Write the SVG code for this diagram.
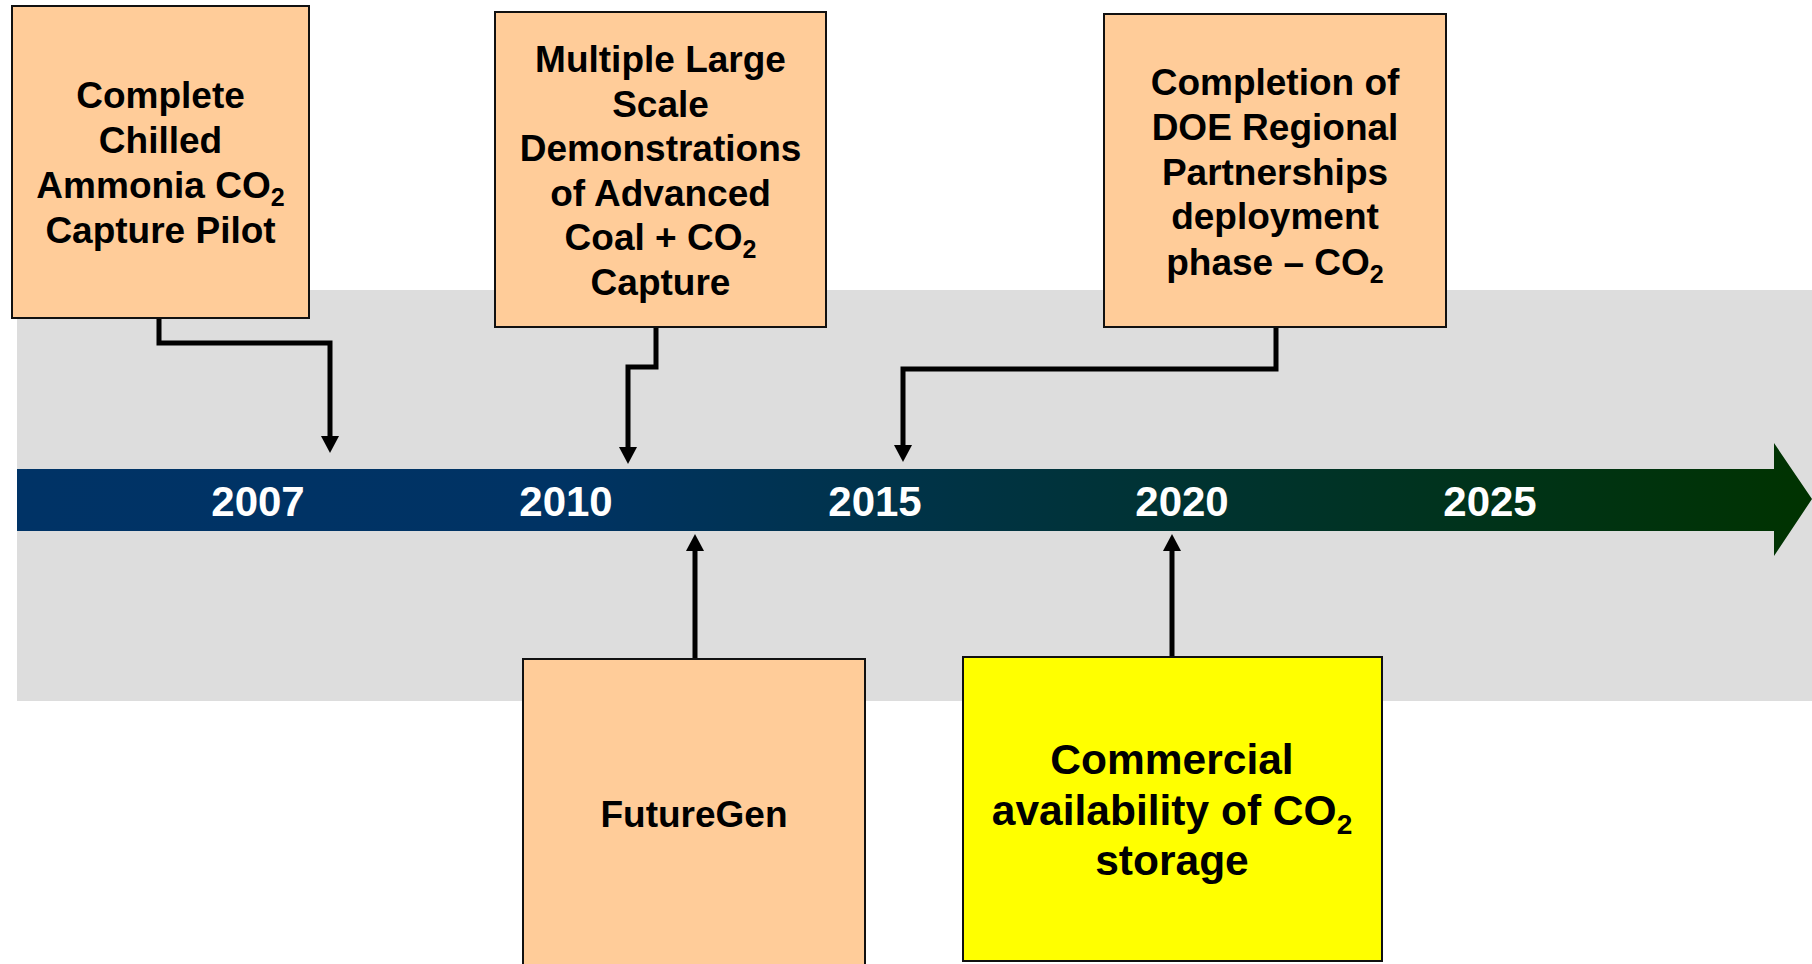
<svg xmlns="http://www.w3.org/2000/svg" width="1812" height="964" viewBox="0 0 1812 964">
<style>
.box{fill:#FFCC99;stroke:#111;stroke-width:2}
.ybox{fill:#FFFF00;stroke:#111;stroke-width:2}
.t{font-family:"Liberation Sans",Arial,sans-serif;font-weight:bold;fill:#000;text-anchor:middle}
.yr{font-family:"Liberation Sans",Arial,sans-serif;font-weight:bold;fill:#fff;text-anchor:middle;font-size:42px}
.c{fill:none;stroke:#000;stroke-width:5;stroke-linejoin:miter}
</style>
<defs>
<linearGradient id="bar" x1="17" y1="0" x2="1812" y2="0" gradientUnits="userSpaceOnUse">
<stop offset="0" stop-color="#003366"/>
<stop offset="0.3" stop-color="#003364"/>
<stop offset="1" stop-color="#003300"/>
</linearGradient>
<marker id="ah" markerUnits="userSpaceOnUse" viewBox="0 0 17 18" markerWidth="17" markerHeight="18" refX="5" refY="9" orient="auto">
<path d="M0,0 L17,9 L0,18 z" fill="#000"/>
</marker>
</defs>
<rect x="0" y="0" width="1812" height="964" fill="#fff"/>
<rect x="17" y="290" width="1795" height="411" fill="#DDDDDD"/>
<g id="timeline">
<path d="M17,469 L1774,469 L1774,443 L1812,499 L1774,556 L1774,531 L17,531 z" fill="url(#bar)"/>
<text class="yr" x="258" y="516">2007</text>
<text class="yr" x="566" y="516">2010</text>
<text class="yr" x="875" y="516">2015</text>
<text class="yr" x="1182" y="516">2020</text>
<text class="yr" x="1490" y="516">2025</text>
</g>
<g id="connectors">
<path class="c" d="M159,318 L159,343 L330,343 L330,441" marker-end="url(#ah)"/>
<path class="c" d="M656,327 L656,367 L628,367 L628,452" marker-end="url(#ah)"/>
<path class="c" d="M1276,327 L1276,369 L903,369 L903,450" marker-end="url(#ah)"/>
<path class="c" d="M695,659 L695,546" marker-end="url(#ah)"/>
<path class="c" d="M1172,657 L1172,546" marker-end="url(#ah)"/>
</g>
<g id="node-chilled-ammonia">
<rect class="box" x="12" y="6" width="297" height="312"/>
<text class="t" font-size="37" x="160.5" y="108">Complete</text>
<text class="t" font-size="37" x="160.5" y="153">Chilled</text>
<text class="t" font-size="37" x="160.5" y="198">Ammonia CO<tspan font-size="25" dy="8">2</tspan></text>
<text class="t" font-size="37" x="160.5" y="243">Capture Pilot</text>
</g>
<g id="node-large-scale">
<rect class="box" x="495" y="12" width="331" height="315"/>
<text class="t" font-size="37" x="660.5" y="72">Multiple Large</text>
<text class="t" font-size="37" x="660.5" y="117">Scale</text>
<text class="t" font-size="37" x="660.5" y="161">Demonstrations</text>
<text class="t" font-size="37" x="660.5" y="206">of Advanced</text>
<text class="t" font-size="37" x="660.5" y="250">Coal + CO<tspan font-size="25" dy="8">2</tspan></text>
<text class="t" font-size="37" x="660.5" y="295">Capture</text>
</g>
<g id="node-doe">
<rect class="box" x="1104" y="14" width="342" height="313"/>
<text class="t" font-size="37" x="1275" y="95">Completion of</text>
<text class="t" font-size="37" x="1275" y="140">DOE Regional</text>
<text class="t" font-size="37" x="1275" y="185">Partnerships</text>
<text class="t" font-size="37" x="1275" y="229">deployment</text>
<text class="t" font-size="37" x="1275" y="275">phase – CO<tspan font-size="25" dy="8">2</tspan></text>
</g>
<g id="node-futuregen">
<rect class="box" x="523" y="659" width="342" height="320"/>
<text class="t" font-size="37" x="694" y="827">FutureGen</text>
</g>
<g id="node-storage">
<rect class="ybox" x="963" y="657" width="419" height="304"/>
<text class="t" font-size="42.5" x="1172" y="774">Commercial</text>
<text class="t" font-size="42.5" x="1172" y="825">availability of CO<tspan font-size="28" dy="9">2</tspan></text>
<text class="t" font-size="42.5" x="1172" y="875">storage</text>
</g>
</svg>
